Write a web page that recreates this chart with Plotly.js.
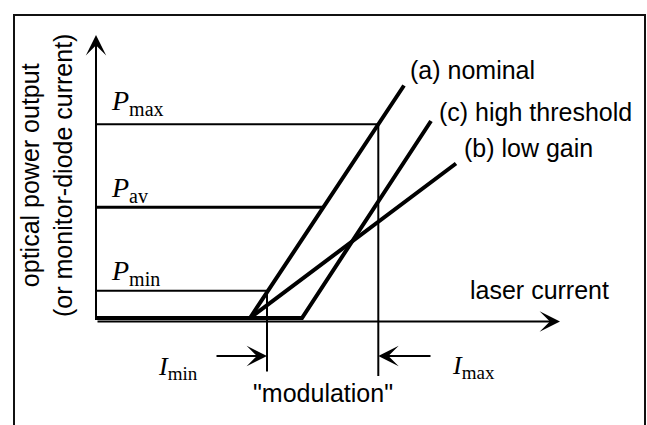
<!DOCTYPE html>
<html><head><meta charset="utf-8">
<script src="https://cdn.plot.ly/plotly-3.0.1.min.js"></script>
<style>html,body{margin:0;padding:0;background:#fff;overflow:hidden}</style>
</head><body><div id="chart" style="width:647px;height:425px"></div>
<script>
// Laser current (arbitrary units) vs optical power output (arbitrary units)
const offPower = 0.35;
const nominalCurrent = [0, 15.4, 30.8];
const nominalPower = [offPower, offPower, 23.6];
const lowGainCurrent = [0, 15.4, 36.0];
const lowGainPower = [offPower, offPower, 15.8];
const highThreshCurrent = [0, 20.6, 33.5];
const highThreshPower = [offPower, offPower, 20.05];
const curveLabels = ['(a) nominal', '(c) high threshold', '(b) low gain'];
const curveLabelCurrent = [31.2, 34.07, 36.57];
const curveLabelPower = [25.15, 20.98, 17.32];

const levelNames = ['max', 'av', 'min'];
const levelPower = [19.72, 11.42, 3.08];
const levelCurrentEnd = [28.23, 22.75, 17.1];
const levelLabelPower = [21.9, 13.25, 4.95];

const modNames = ['min', 'max'];
const modCurrent = [17.1, 28.23];
const modLineBottom = [-5.0, -5.45];
const modArrowFrom = [11.9, 33.6];
const modArrowPower = -3.45;
const modLabelCurrent = [6.0, 35.4];
const modLabelPower = [-4.65, -4.55];

const axisCurrentEnd = 46.4;
const axisPowerEnd = 28.65;

const SANS = 'Liberation Sans, Arial, sans-serif';
const SERIF = 'Liberation Serif, Times New Roman, serif';

function line(x, y, w) {
  return {x: x, y: y, type: 'scatter', mode: 'lines', hoverinfo: 'skip',
          line: {color: '#000', width: w}, showlegend: false};
}

const traces = [];
// level lines (Pmax, Pav, Pmin)
const levelWidths = [2, 3, 2];
levelNames.forEach((n, i) => {
  traces.push(line([0, levelCurrentEnd[i]], [levelPower[i], levelPower[i]], levelWidths[i]));
});
// modulation current verticals
traces.push(line([modCurrent[0], modCurrent[0]], [levelPower[2], modLineBottom[0]], 2));
traces.push(line([modCurrent[1], modCurrent[1]], [levelPower[0], modLineBottom[1]], 2));
// curves
traces.push(line(highThreshCurrent, highThreshPower, 4));
traces.push(line(lowGainCurrent, lowGainPower, 4));
traces.push(line(nominalCurrent, nominalPower, 4));

const ann = [];
function arrow(x, y, ax, ay) {
  ann.push({x: x, y: y, ax: ax, ay: ay, xref: 'x', yref: 'y', axref: 'x', ayref: 'y',
            text: '', showarrow: true, arrowhead: 3, arrowsize: 1.7, arrowwidth: 2,
            arrowcolor: '#000', font: {size: 12}});
}
// axes
arrow(0, axisPowerEnd, 0, 0);
arrow(axisCurrentEnd, 0, 0, 0);
// modulation arrows
arrow(modCurrent[0], modArrowPower, modArrowFrom[0], modArrowPower);
arrow(modCurrent[1], modArrowPower, modArrowFrom[1], modArrowPower);

function txt(t, x, y, opts) {
  ann.push(Object.assign({text: t, x: x, y: y, xref: 'x', yref: 'y', showarrow: false,
    xanchor: 'left', yanchor: 'middle', font: {family: SANS, size: 25, color: '#000'}}, opts || {}));
}
function symLabel(sym, sub, symSize, subSize) {
  return '<span style="font-style:italic;font-size:' + symSize + 'px">' + sym + '</span>' +
         '<sub><span style="font-size:' + subSize + 'px">' + sub + '</span></sub>';
}
curveLabels.forEach((t, i) => txt(t, curveLabelCurrent[i], curveLabelPower[i]));
txt('laser current', 37.23, 3.15);
txt('"modulation"', 22.7, -7.15, {xanchor: 'center'});
levelNames.forEach((n, i) => txt(symLabel('P', n, 28, 20),
  1.3, levelLabelPower[i], {font: {family: SERIF, size: 28, color: '#000'}}));
modNames.forEach((n, i) => txt(symLabel('I', n, 26, 19),
  modLabelCurrent[i], modLabelPower[i], {font: {family: SERIF, size: 26, color: '#000'}}));
ann.push({text: 'optical power output<br>(or monitor-diode current)', xref: 'paper', yref: 'paper',
  x: 47 / 647, y: 1 - 176 / 425, xanchor: 'center', yanchor: 'middle', textangle: -90,
  showarrow: false, font: {family: SANS, size: 25, color: '#000'}});

const layout = {
  width: 647, height: 425, margin: {l: 0, r: 0, t: 0, b: 0},
  paper_bgcolor: '#fff', plot_bgcolor: '#fff', showlegend: false,
  xaxis: {range: [-9.6, 55.1], visible: false, fixedrange: true},
  yaxis: {range: [-10.35, 32.15], visible: false, fixedrange: true},
  annotations: ann,
  shapes: [{type: 'rect', xref: 'paper', yref: 'paper', x0: 14 / 647, x1: 645 / 647,
            y0: -0.2, y1: 1 - 15 / 425, line: {color: '#111', width: 2}}]
};
Plotly.newPlot('chart', traces, layout, {staticPlot: true, displayModeBar: false});
</script></body></html>
